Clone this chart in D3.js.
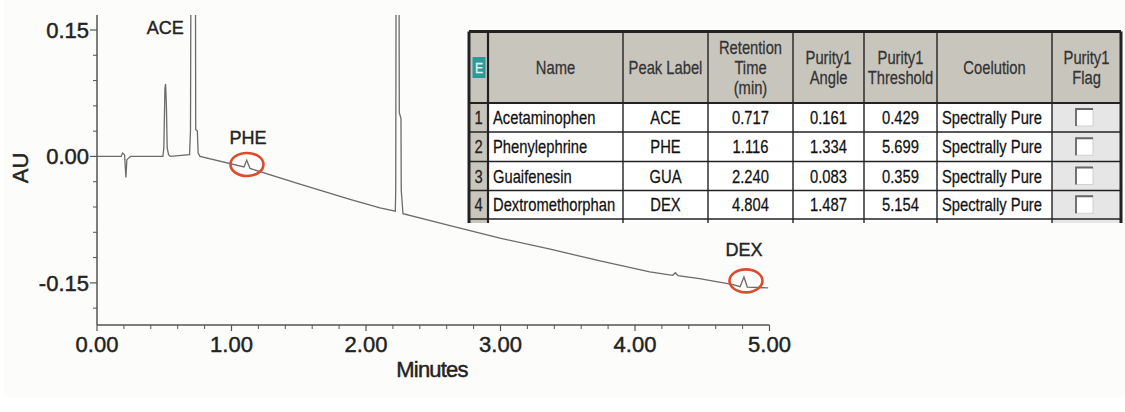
<!DOCTYPE html>
<html>
<head>
<meta charset="utf-8">
<script src="https://cdn.jsdelivr.net/npm/d3@7"></script>
<style>
  body { margin: 0; background: #ffffff; }
  svg { display: block; }
</style>
</head>
<body>
<div id="chart"></div>
<script>
// chromatogram trace (minutes, AU)
const traceMin = [0, 0.18, 0.19, 0.205, 0.215, 0.222, 0.235, 0.25,
  0.49, 0.497, 0.505, 0.51, 0.516, 0.522, 0.532, 0.545,
  0.688, 0.695, 0.70, 0.712, 0.722, 0.731, 0.734, 0.746, 0.752, 0.766,
  1.093, 1.113, 1.138, 1.509, 1.881, 2.104,
  2.218, 2.221, 2.232, 2.236, 2.2475, 2.26, 2.262, 2.275,
  2.625, 2.996, 3.37, 3.74, 4.11, 4.28, 4.30, 4.32, 4.48, 4.73,
  4.781, 4.81, 4.835, 4.99];
const traceAU = [0, 0, 0.004, 0.002, -0.025, -0.004, -0.002, 0,
  0, 0.010, 0.080, 0.086, 0.060, 0.010, 0.002, 0,
  0.002, 0.03, 0.30, 0.90, 0.90, 0.30, 0.032, 0.030, 0.004, 0,
  -0.0125, -0.0044, -0.0143, -0.033, -0.051, -0.061,
  -0.065, -0.04, 1.0, 1.0, 0.052, 0.045, -0.04, -0.068,
  -0.082, -0.097, -0.110, -0.124, -0.137, -0.141, -0.138, -0.1415, -0.145, -0.152,
  -0.1545, -0.143, -0.155, -0.156];

// peak labels drawn on the trace
const markLabels = ["ACE", "PHE", "DEX"];
const markMin = [0.507, 1.123, 4.81];
const markAU = [0.145, 0.0143, -0.118];
// circled peaks
const ringMin = [1.115, 4.825];
const ringAU = [-0.0095, -0.1476];

// axis ticks
const xMajor = [0, 1, 2, 3, 4, 5];
const xMajorLabels = ["0.00", "1.00", "2.00", "3.00", "4.00", "5.00"];
const xMinor = [0.2, 0.4, 0.6, 0.8, 1.2, 1.4, 1.6, 1.8, 2.2, 2.4, 2.6, 2.8, 3.2, 3.4, 3.6, 3.8, 4.2, 4.4, 4.6, 4.8];
const yMajor = [0.15, 0, -0.15];
const yMajorLabels = ["0.15", "0.00", "-0.15"];
const yMinor = [0.12, 0.09, 0.06, 0.03, -0.03, -0.06, -0.09, -0.12, -0.18];

// peak table
const tableHeaders = ["Name", "Peak Label", "Retention\nTime\n(min)", "Purity1\nAngle", "Purity1\nThreshold", "Coelution", "Purity1\nFlag"];
const peakNames = ["Acetaminophen", "Phenylephrine", "Guaifenesin", "Dextromethorphan"];
const peakLabels = ["ACE", "PHE", "GUA", "DEX"];
const retention = ["0.717", "1.116", "2.240", "4.804"];
const purityAngle = ["0.161", "1.334", "0.083", "1.487"];
const purityThreshold = ["0.429", "5.699", "0.359", "5.154"];
const coelution = ["Spectrally Pure", "Spectrally Pure", "Spectrally Pure", "Spectrally Pure"];

const W = 1125, H = 412;
const svg = d3.select("#chart").append("svg")
  .attr("width", W).attr("height", H);

svg.append("rect").attr("x", 4).attr("y", 0).attr("width", W - 4).attr("height", 397)
  .attr("fill", "#fcfcfa");

const x = d3.scaleLinear().domain([0, 5]).range([97, 769.5]);
const y = d3.scaleLinear().domain([-0.2, 0.15]).range([325, 30]);
const yTop = 15;

const axisColor = "#555";
const font = "'Liberation Sans', Arial, sans-serif";
const ink = "#222";

// slightly heavier text, the scan looks bold-ish
function axText(sel, size) {
  return sel.style("font-family", font).style("font-size", size)
    .style("fill", ink).style("stroke", ink).style("stroke-width", 0.45);
}

// clip for the trace
svg.append("clipPath").attr("id", "plotclip")
  .append("rect").attr("x", 97).attr("y", yTop).attr("width", 680).attr("height", 325 - yTop);

// x axis
const gx = svg.append("g").attr("transform", "translate(0,325)");
gx.append("line").attr("x1", x(0)).attr("x2", x(5)).attr("stroke", axisColor).attr("stroke-width", 1.5);
gx.selectAll(".minor").data(xMinor).enter().append("line")
  .attr("x1", d => x(d)).attr("x2", d => x(d)).attr("y1", 0).attr("y2", 4)
  .attr("stroke", axisColor).attr("stroke-width", 1);
gx.selectAll(".major").data(xMajor).enter().append("line")
  .attr("x1", d => x(d)).attr("x2", d => x(d)).attr("y1", 0).attr("y2", 6)
  .attr("stroke", axisColor).attr("stroke-width", 1.2);
axText(gx.selectAll("text").data(xMajor).enter().append("text")
  .attr("x", d => x(d)).attr("y", 27)
  .attr("text-anchor", "middle"), "22px")
  .text((d, i) => xMajorLabels[i]);
axText(svg.append("text").attr("x", 432).attr("y", 377).attr("text-anchor", "middle"), "22px")
  .style("letter-spacing", "-0.8px")
  .text("Minutes");

// y axis
const gy = svg.append("g").attr("transform", "translate(97,0)");
gy.append("line").attr("y1", yTop).attr("y2", 325).attr("stroke", axisColor).attr("stroke-width", 1.5);
gy.selectAll(".minor").data(yMinor).enter().append("line")
  .attr("y1", d => y(d)).attr("y2", d => y(d)).attr("x1", 0).attr("x2", -4)
  .attr("stroke", axisColor).attr("stroke-width", 1);
gy.selectAll(".major").data(yMajor).enter().append("line")
  .attr("y1", d => y(d)).attr("y2", d => y(d)).attr("x1", 0).attr("x2", -7)
  .attr("stroke", axisColor).attr("stroke-width", 1.2);
axText(gy.selectAll("text").data(yMajor).enter().append("text")
  .attr("x", -8).attr("y", d => y(d)).attr("dy", "0.36em")
  .attr("text-anchor", "end"), "22px")
  .text((d, i) => yMajorLabels[i]);
axText(svg.append("text").attr("transform", "translate(28,168) rotate(-90)")
  .attr("text-anchor", "middle"), "22px")
  .text("AU");

// trace
const pts = traceMin.map((t, i) => [t, traceAU[i]]);
const line = d3.line().x(d => x(d[0])).y(d => y(d[1]));
svg.append("path").datum(pts)
  .attr("clip-path", "url(#plotclip)")
  .attr("d", line)
  .attr("fill", "none").attr("stroke", "#6b6b6b").attr("stroke-width", 1.3);

// peak labels and rings
axText(svg.selectAll(".mark").data(markLabels).enter().append("text")
  .attr("x", (d, i) => x(markMin[i])).attr("y", (d, i) => y(markAU[i]))
  .attr("text-anchor", "middle"), "18px")
  .style("stroke-width", 0.4)
  .text(d => d);
svg.selectAll(".ring").data(ringMin).enter().append("ellipse")
  .attr("cx", d => x(d)).attr("cy", (d, i) => y(ringAU[i]))
  .attr("rx", 16.5).attr("ry", 11.5)
  .attr("fill", "none").attr("stroke", "#dd4a2c").attr("stroke-width", 2.6);

// table
const colX = [469, 488, 623, 708, 793, 864, 937, 1052, 1121];
const rowY = [31.5, 103, 132, 161.5, 190.5, 219];
const tbl = svg.append("g");
const headBg = "#c8c5bd";

// condensed text: no narrow face installed, so squeeze Liberation Sans
function tText(px, py, str, anchor, size, color) {
  tbl.append("g").attr("transform", `translate(${px},${py}) scale(0.82,1)`)
    .append("text").attr("text-anchor", anchor)
    .style("font-family", font).style("font-size", size + "px")
    .style("fill", color).style("stroke", color).style("stroke-width", 0.25)
    .text(str);
}

tbl.append("rect").attr("x", colX[0]).attr("y", rowY[0])
  .attr("width", colX[8] - colX[0]).attr("height", rowY[1] - rowY[0]).attr("fill", headBg);
tbl.append("rect").attr("x", colX[0]).attr("y", rowY[1])
  .attr("width", colX[1] - colX[0]).attr("height", 223 - rowY[1]).attr("fill", headBg);
tbl.append("rect").attr("x", colX[1]).attr("y", rowY[1])
  .attr("width", colX[7] - colX[1]).attr("height", 223 - rowY[1]).attr("fill", "#ffffff");
tbl.append("rect").attr("x", colX[7]).attr("y", rowY[1])
  .attr("width", colX[8] - colX[7]).attr("height", 223 - rowY[1]).attr("fill", "#e6e6e6");

// "E" badge
tbl.append("rect").attr("x", 472.5).attr("y", 57).attr("width", 13).attr("height", 21)
  .attr("fill", "#2b9a98");
tText(479, 73, "E", "middle", 15, "#e8f4f4");

// header text
tableHeaders.forEach((h, c) => {
  const lines = h.split("\n");
  const cx = (colX[c + 1] + colX[c + 2]) / 2;
  const cy = (rowY[0] + rowY[1]) / 2;
  lines.forEach((l, k) => {
    tText(cx, cy + (k - (lines.length - 1) / 2) * 20 + 6.5, l, "middle", 18, "#333");
  });
});

// body rows
const cols = [peakNames, peakLabels, retention, purityAngle, purityThreshold, coelution];
peakNames.forEach((n, r) => {
  const by = (rowY[r + 1] + rowY[r + 2]) / 2 + 6.5;
  tText((colX[0] + colX[1]) / 2, by, String(r + 1), "middle", 18, "#222");
  cols.forEach((arr, c) => {
    const left = c === 0 || c === 5;
    tText(left ? colX[c + 1] + 5 : (colX[c + 1] + colX[c + 2]) / 2, by, arr[r],
      left ? "start" : "middle", 18, "#111");
  });
  // empty flag checkbox
  const bx = 1076, bt = (rowY[r + 1] + rowY[r + 2]) / 2 - 8.5;
  tbl.append("rect").attr("x", bx).attr("y", bt).attr("width", 17).attr("height", 17)
    .attr("fill", "#ffffff").attr("stroke", "#d0d0d0").attr("stroke-width", 1);
  tbl.append("path").attr("d", `M${bx},${bt + 17}V${bt}H${bx + 17}`)
    .attr("fill", "none").attr("stroke", "#666").attr("stroke-width", 1.8);
});

// grid lines
colX.forEach((cx, i) => {
  tbl.append("line").attr("x1", cx).attr("x2", cx).attr("y1", rowY[0]).attr("y2", 223)
    .attr("stroke", "#222").attr("stroke-width", (i === 0 || i === 8) ? 3 : (i === 1 ? 2.2 : 1.4));
});
rowY.forEach((ry, i) => {
  tbl.append("line").attr("x1", colX[0]).attr("x2", colX[8]).attr("y1", ry).attr("y2", ry)
    .attr("stroke", "#222").attr("stroke-width", i === 0 ? 3 : (i === 1 ? 2.2 : 1.4));
});
</script>
</body>
</html>
